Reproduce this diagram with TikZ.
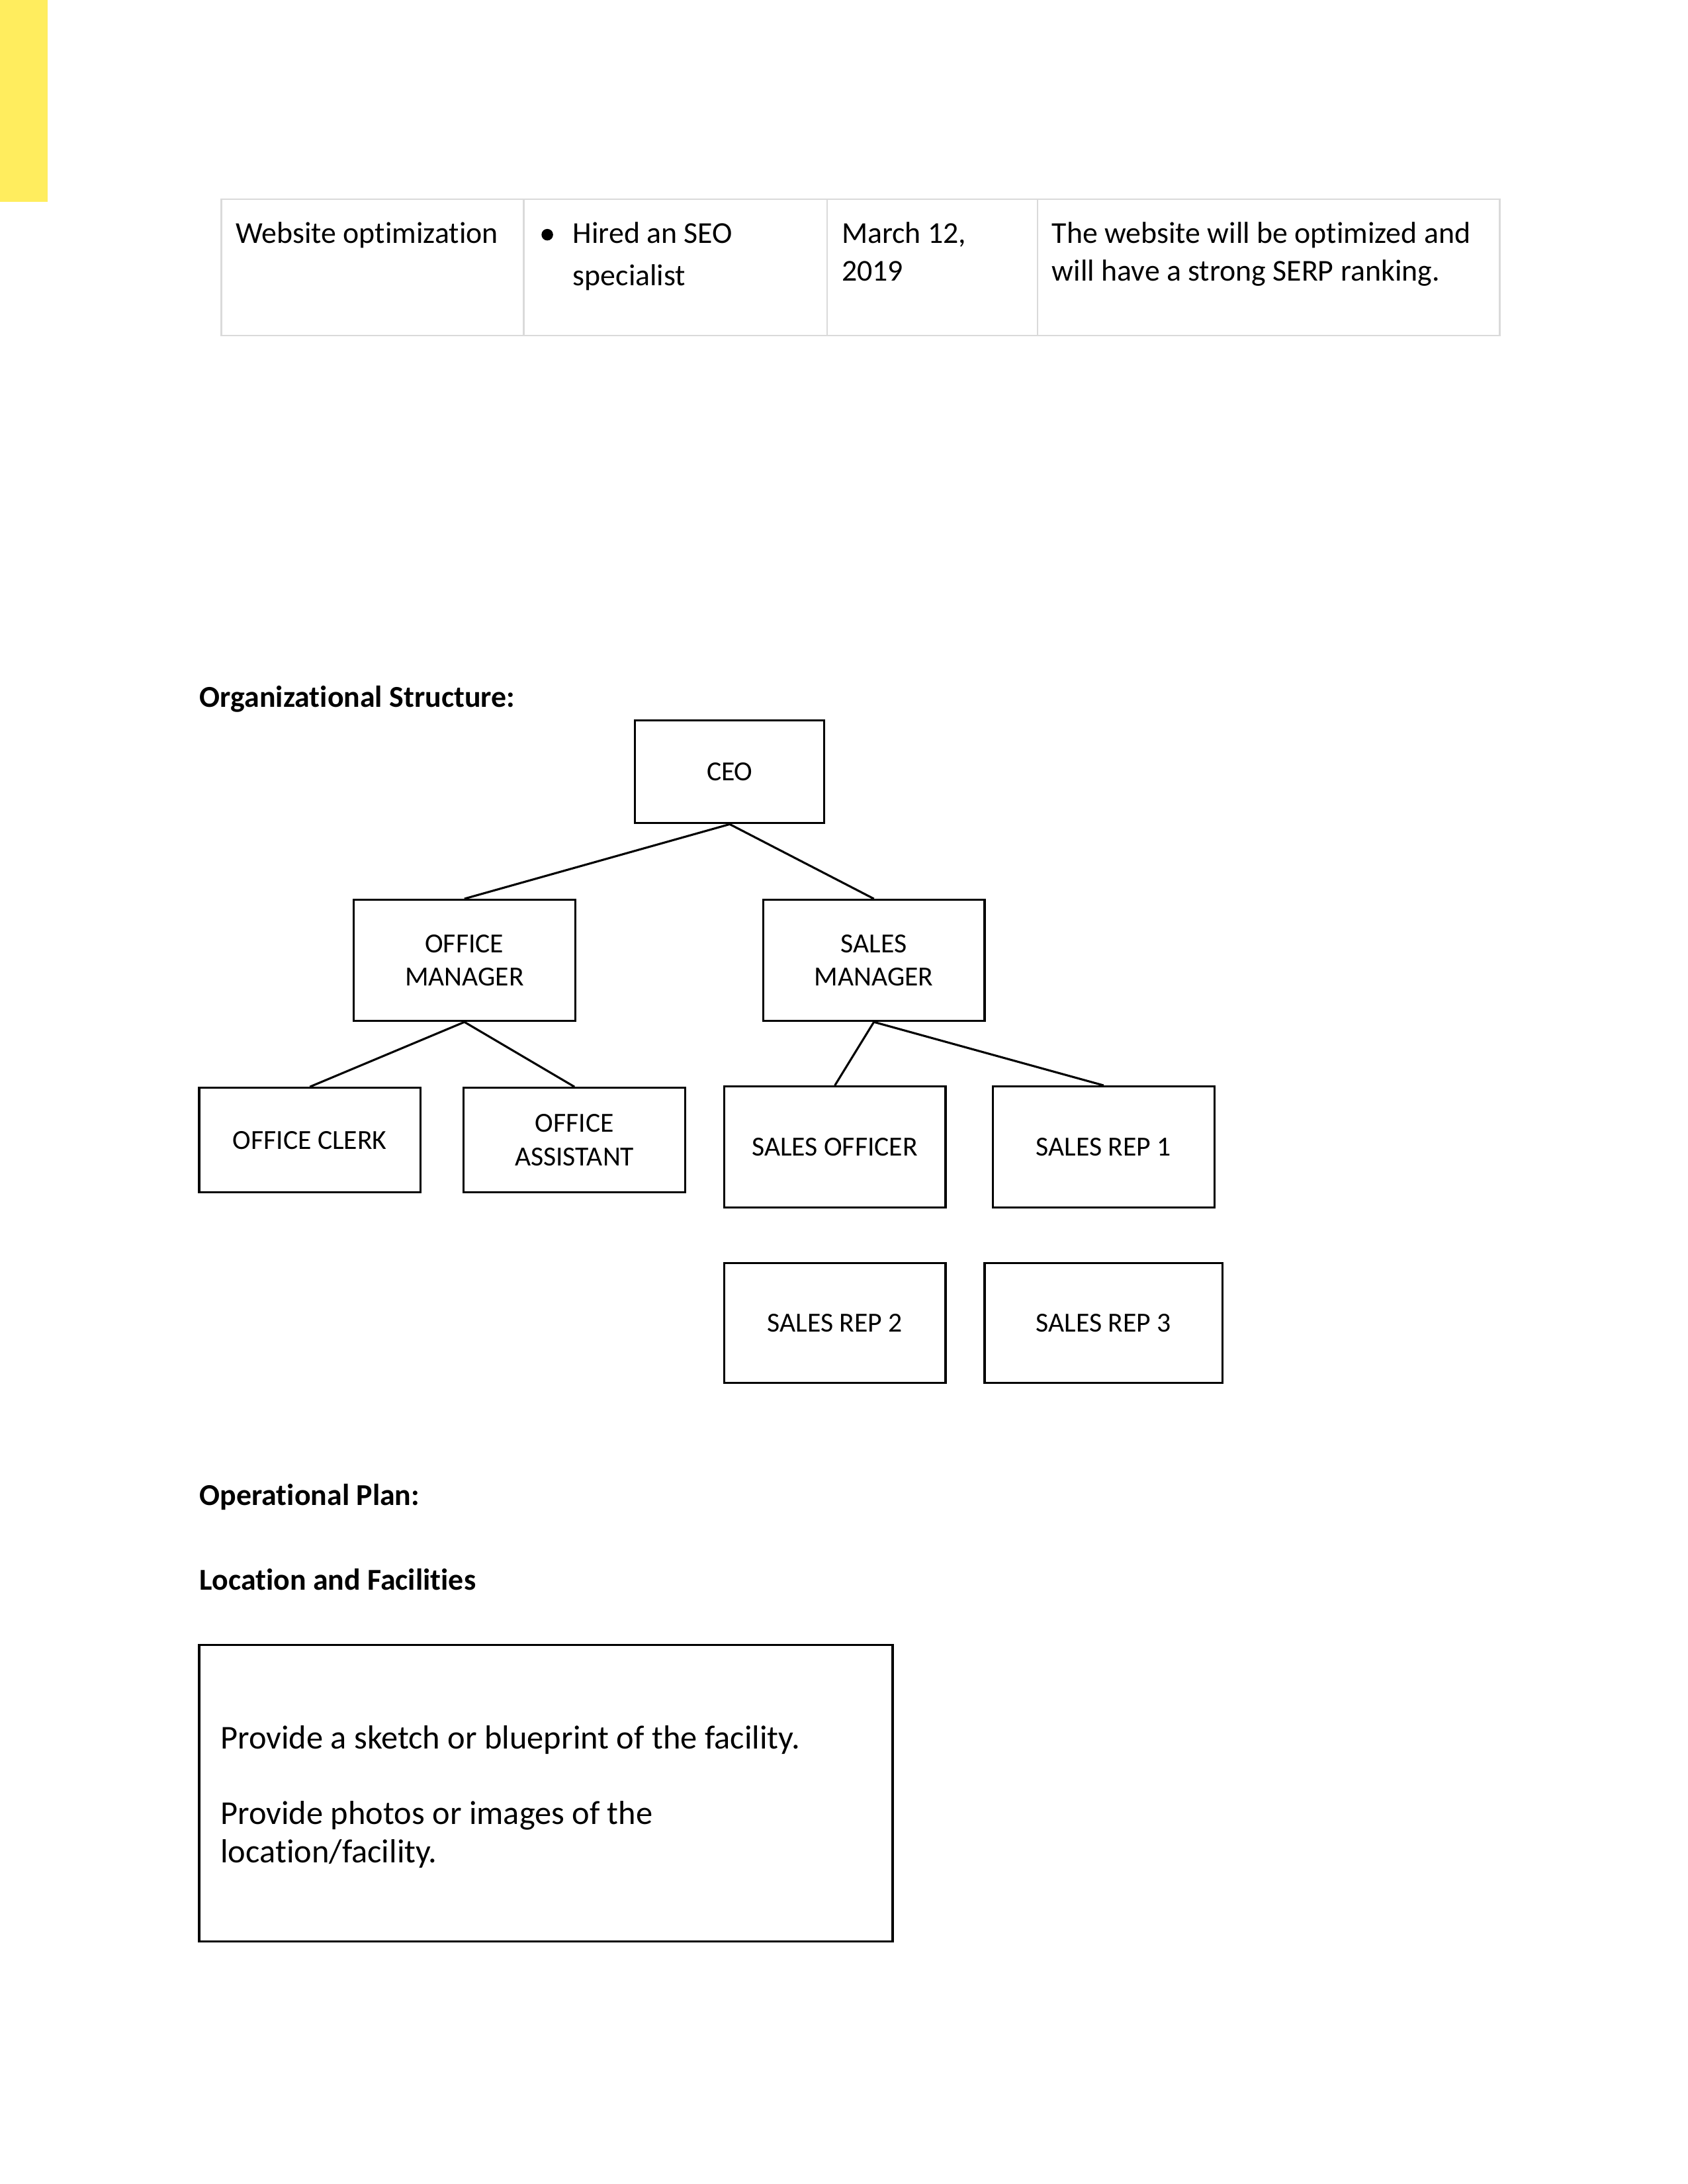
\documentclass[tikz,border=0pt]{standalone}
\usepackage{fontspec}
\setmainfont{Carlito}[Ligatures=NoCommon]
\usetikzlibrary{fit}
\definecolor{hl}{RGB}{255,237,94}
\definecolor{gridc}{RGB}{218,218,218}
\begin{document}
\begin{tikzpicture}[x=0.505pt,y=-0.505pt,
 box/.style={draw, line width=0.75pt, inner sep=0pt},
 lbl/.style={align=center, inner sep=0pt, font=\fontsize{10}{12.1}\selectfont},
 txt/.style={anchor=base west, inner sep=0pt, font=\fontsize{11}{13}\selectfont},
 head/.style={anchor=base west, inner sep=0pt, font=\bfseries\fontsize{11}{13}\selectfont},
 big/.style={anchor=base west, inner sep=0pt, font=\fontsize{12.1}{14}\selectfont},
 link/.style={line width=0.75pt},
 tline/.style={gridc, line width=0.6pt}]
\useasboundingbox (0,0) rectangle (1212,1568);
\fill[hl] (0,0) rectangle (34,145);
% table
\draw[tline] (159,143) rectangle (1077,241);
\foreach \x in {376,594,745} \draw[tline] (\x,143) -- (\x,241);
\node[txt] (t1) at (169,174.5) {Website optimization};
\fill (393,168.5) circle (2.1pt);
\node[txt] (t2a) at (411,174.5) {Hired an SEO};
\node[txt] (t2b) at (411,205) {specialist};
\node[txt] (t3a) at (604,174.5) {March 12,};
\node[txt] (t3b) at (604,201.5) {2019};
\node[txt] (t4a) at (755,174.5) {The website will be optimized and};
\node[txt] (t4b) at (755,201.5) {will have a strong SERP ranking.};
% org chart
\node[head] (h1) at (143,507.5) {Organizational Structure:};
\node[box, fit={(456,517) (592,591)}] (ceo) {};
\node[box, fit={(254,646) (413,733)}] (om) {};
\node[box, fit={(548,646) (707,733)}] (sm) {};
\node[box, fit={(143,781) (302,856)}] (oc) {};
\node[box, fit={(333,781) (492,856)}] (oa) {};
\node[box, fit={(520,780) (679,867)}] (so) {};
\node[box, fit={(713,780) (872,867)}] (sr1) {};
\node[box, fit={(520,907) (679,993)}] (sr2) {};
\node[box, fit={(707,907) (878,993)}] (sr3) {};
\node[lbl] (ceol) at (ceo.center) {CEO};
\node[lbl] (oml) at (om.center) {OFFICE\\MANAGER};
\node[lbl] (sml) at (sm.center) {SALES\\MANAGER};
\node[lbl] (ocl) at (oc.center) {OFFICE CLERK};
\node[lbl] (oal) at (oa.center) {OFFICE\\ASSISTANT};
\node[lbl] (sol) at (so.center) {SALES OFFICER};
\node[lbl] (sr1l) at (sr1.center) {SALES REP 1};
\node[lbl] (sr2l) at (sr2.center) {SALES REP 2};
\node[lbl] (sr3l) at (sr3.center) {SALES REP 3};
\draw[link] (ceo.south) -- (om.north);
\draw[link] (ceo.south) -- (sm.north);
\draw[link] (om.south) -- (oc.north);
\draw[link] (om.south) -- (oa.north);
\draw[link] (sm.south) -- (so.north);
\draw[link] (sm.south) -- (sr1.north);
% operational plan
\node[head] (h2) at (143,1080.5) {Operational Plan:};
\node[head] (h3) at (143,1141.5) {Location and Facilities};
\draw[line width=0.75pt] (143,1181) rectangle (641,1394);
\node[big] (p1) at (158,1255.5) {Provide a sketch or blueprint of the facility.};
\node[big] (p2) at (158,1309.5) {Provide photos or images of the};
\node[big] (p3) at (158,1337.5) {location/facility.};
\end{tikzpicture}
\end{document}
